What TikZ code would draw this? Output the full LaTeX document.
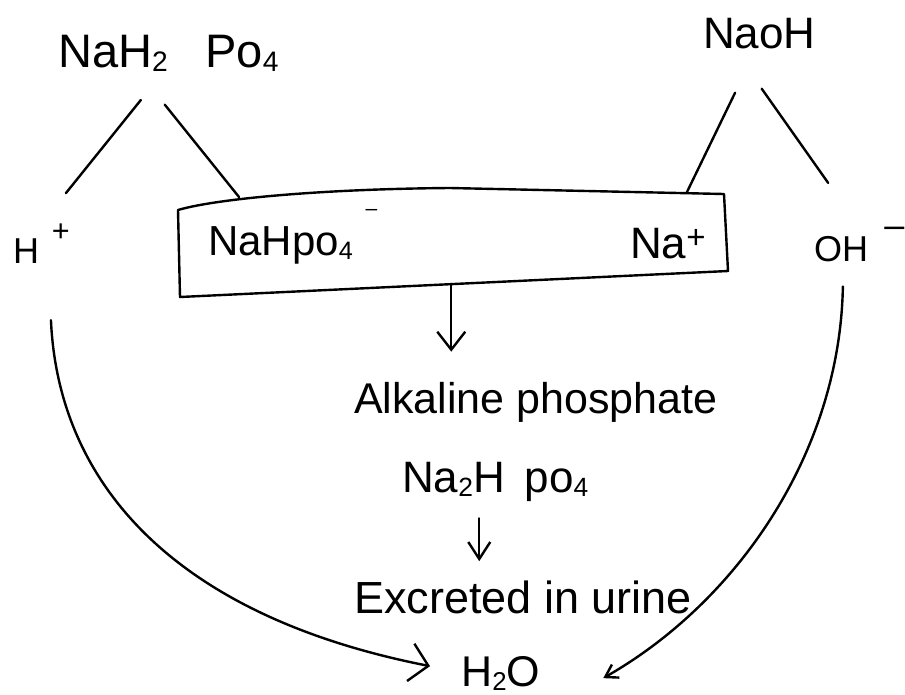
\documentclass[tikz,border=0pt]{standalone}
\usepackage{graphicx}
\usepackage{fontspec}
\setmainfont{Liberation Sans}
\usetikzlibrary{arrows.meta,calc}
\newcommand{\chsub}[1]{\raisebox{-0.1em}{\scalebox{0.6}{#1}}}
\newcommand{\chsup}[3][0.55em]{\raisebox{#1}{\scalebox{#2}{#3}}}
\tikzset{
  lbl/.style={inner sep=0pt, anchor=base west},
  fs/.style={font=\fontsize{#1pt}{#1pt}\selectfont},
  ln/.style={line width=2.4pt, line cap=round, line join=round, draw=black},
  arrA/.style={-{Straight Barb[length=18pt,width=28pt]}},
  arrB/.style={-{Straight Barb[length=17pt,width=22pt]}},
  arrL/.style={-{Straight Barb[length=18pt,width=38pt]}},
  arrR/.style={-{Straight Barb[length=12pt,width=15pt]}}
}
\begin{document}
\begin{tikzpicture}[x=1pt,y=-1pt]
\fill[white] (0,0) rectangle (905,694);
\useasboundingbox (0,0) rectangle (905,694);

% text nodes
\node[lbl,fs=47] (nah) at (58,67) {NaH\chsub{2}\hspace{0.8em}Po\chsub{4}};
\node[lbl,fs=44] (naoh) at (703,48) {NaoH};
\node[lbl,fs=36] (hplus) at (13,263) {H\hspace{0.35em}\chsup[0.6em]{0.85}{+}};
\node[lbl,fs=42] (nahpo) at (208,255) {NaHpo\chsub{4}\hspace{0.3em}\raisebox{0.95em}{\scalebox{0.5}{–}}};
\node[lbl,fs=44] (naplus) at (630,258) {Na\chsup[0.22em]{0.75}{+}};
\node[lbl,fs=36] (oh) at (814,261) {OH\hspace{0.45em}\raisebox{0.65em}{–}};
\node[lbl,fs=43] (alk) at (354,413) {Alkaline phosphate};
\node[lbl,fs=44] (na2) at (402,492) {Na\chsub{2}H\hspace{0.45em}po\chsub{4}};
\node[lbl,fs=45] (exc) at (354,613) {Excreted in urine};
\node[lbl,fs=43] (h2o) at (461,686) {H\chsub{2}O};

% box
\coordinate (bTL) at (178,210);
\coordinate (bTM) at (450,188);
\coordinate (bTR) at (724,194);
\coordinate (bBR) at (728,271);
\coordinate (bBL) at (180,297);
\draw[ln] (bTL) .. controls (215,199) and (320,189) .. (bTM) -- (bTR) -- (bBR) -- (bBL) -- cycle;
\coordinate (bxA) at (239,197);
\coordinate (bxB) at (687,192);
\coordinate (bxC) at ($(bBL)!0.495!(bBR)$);

% connectors
\draw[ln, shorten <=36pt, shorten >=39pt] ([xshift=-5pt]nah.south) -- (hplus.north);
\draw[ln, shorten <=42pt] ([xshift=-30pt]nah.south) -- (bxA);
\draw[ln, shorten <=49pt] ([xshift=-3pt]naoh.south) -- (bxB);
\draw[ln, shorten <=49pt, shorten >=54pt] ([xshift=-26pt]naoh.south) -- (oh.north);

\draw[ln, arrA, shorten >=30pt] (bxC) -- (bxC |- alk.north);
\coordinate (a2s) at ([xshift=-16pt]na2.south);
\draw[ln, arrB, shorten <=17pt, shorten >=19pt] (a2s) -- (a2s |- exc.north);

\draw[ln, arrL, shorten <=57pt] ([xshift=7pt]hplus.south) .. controls (58,480) and (170,615) .. ([xshift=-31pt,yshift=7pt]h2o.west);
\draw[ln, arrR, shorten <=25pt] ([xshift=-16pt]oh.south) .. controls (840,450) and (740,600) .. ([xshift=63pt,yshift=-5pt]h2o.east);
\end{tikzpicture}
\end{document}
